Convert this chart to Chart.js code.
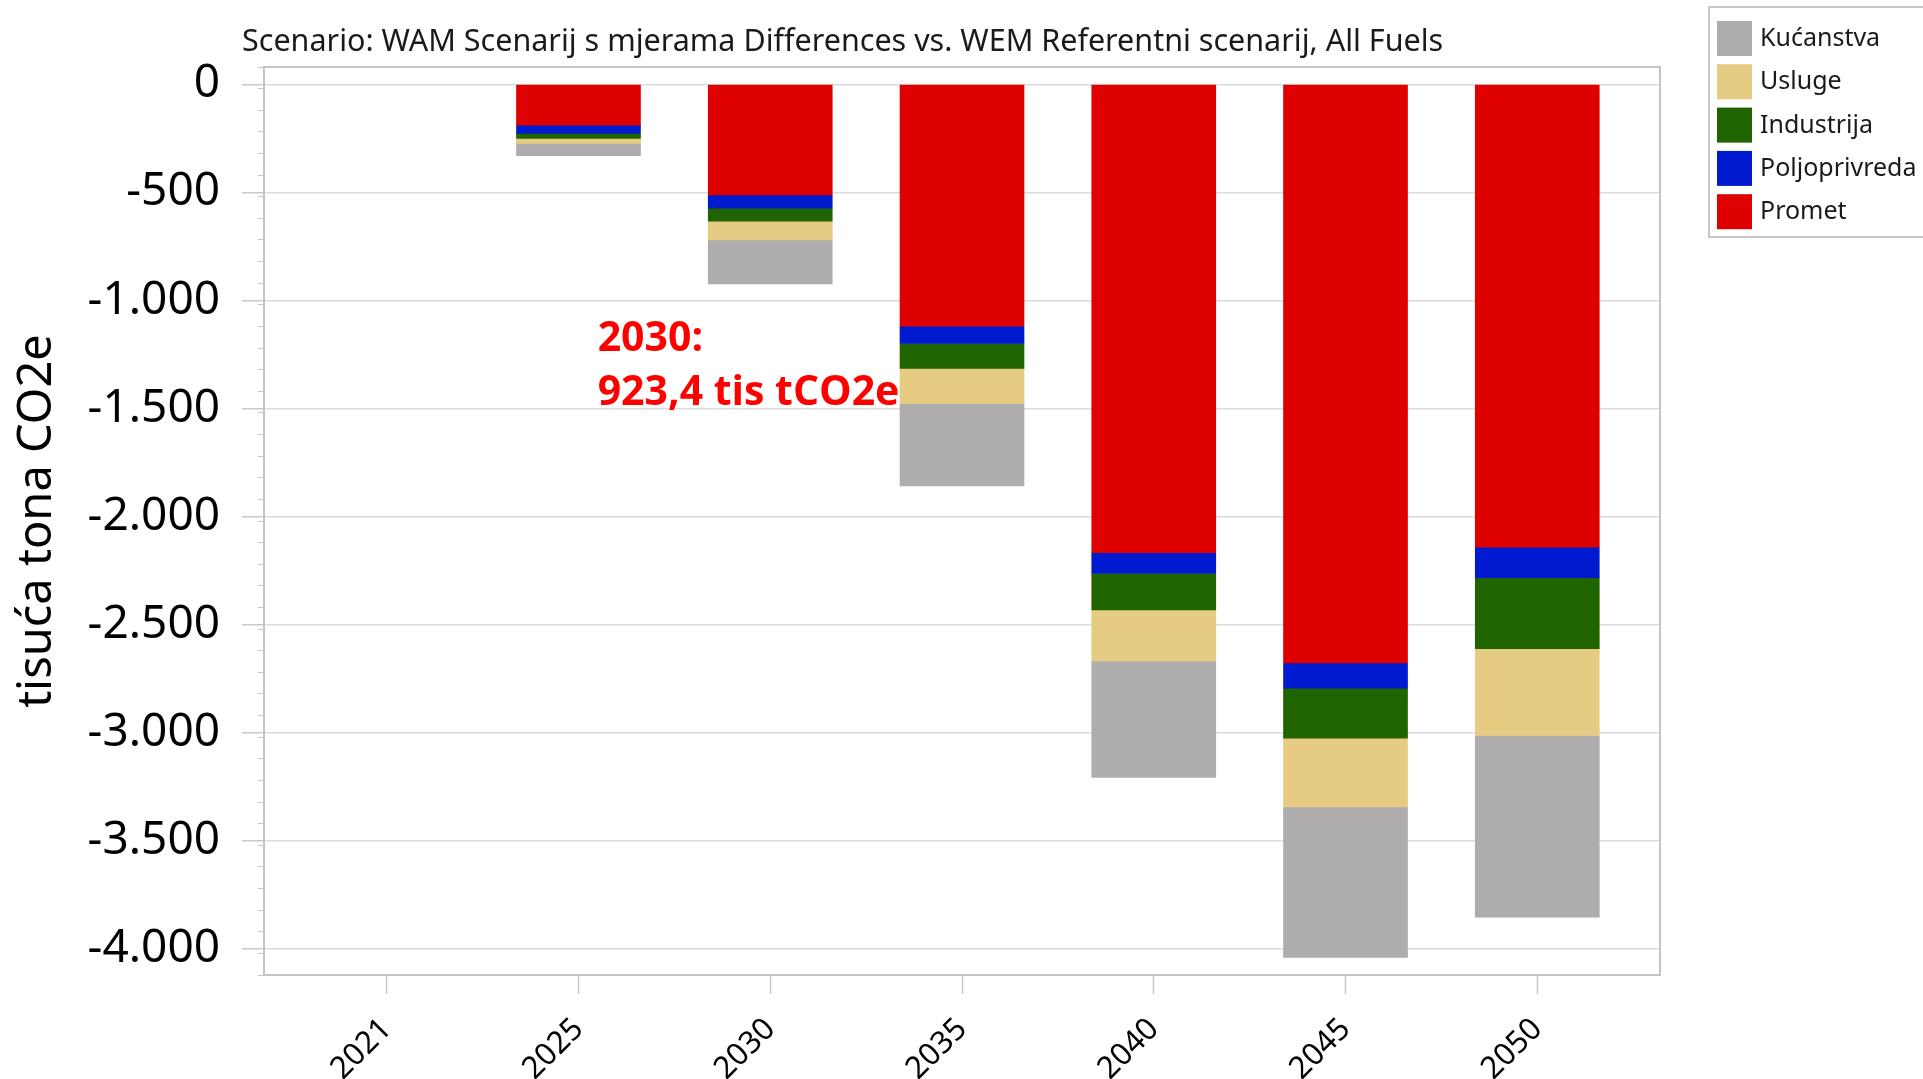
<!DOCTYPE html>
<html>
<head>
<meta charset="utf-8">
<title>WAM vs WEM - razlika emisija</title>
<script src="https://cdn.jsdelivr.net/npm/chart.js@4.4.1/dist/chart.umd.min.js"></script>
<style>
  html, body { margin: 0; padding: 0; background: #fff; overflow: hidden; }
  #chart { display: block; }
</style>
</head>
<body>
<canvas id="chart" width="1923" height="1079"></canvas>
<script>
// Data (tisuća tona CO2e, WAM minus WEM)
const years = ["2021", "2025", "2030", "2035", "2040", "2045", "2050"];
const promet = [0, -189, -512, -1119, -2166, -2677, -2141];
const poljoprivreda = [0, -38, -61, -80, -97, -116, -141];
const industrija = [0, -23, -60, -115, -168, -232, -329];
const usluge = [0, -23, -87, -163, -236, -318, -401];
const kucanstva = [0, -57, -203.4, -381, -539, -696, -841];
const yTicks = [0, -500, -1000, -1500, -2000, -2500, -3000, -3500, -4000];

const subtitle = "Scenario: WAM Scenarij s mjerama Differences vs. WEM Referentni scenarij, All Fuels";
const noteLines = ["2030:", "923,4 tis tCO2e"];

const font = '"Noto Sans", "Open Sans", sans-serif';

// zero rows are left out so no hairline bar is drawn for 2021
function toPoints(arr) {
    return arr.map((v, i) => ({ x: i, y: v === 0 ? null : v }));
}

// thousands with a dot, like -1.000
function fmt(v) {
    const s = Math.abs(v).toString().replace(/\B(?=(\d{3})+(?!\d))/g, ".");
    return (v < 0 ? "-" : "") + s;
}

// box around the plot
const frame = {
    id: "frame",
    afterDatasetsDraw(chart) {
        const { ctx, chartArea: a } = chart;
        ctx.save();
        ctx.strokeStyle = "#c4c4c4";
        ctx.lineWidth = 2;
        ctx.strokeRect(a.left, a.top, a.right - a.left, a.bottom - a.top);
        ctx.restore();
    }
};

// subtitle line + red note
const texts = {
    id: "texts",
    afterDraw(chart) {
        const { ctx } = chart;
        const x = chart.scales.x;
        const y = chart.scales.y;
        ctx.save();
        ctx.fillStyle = "#1a1a1a";
        ctx.font = "30.5px " + font;
        ctx.textBaseline = "alphabetic";
        ctx.fillText(subtitle, 242, 51);

        ctx.fillStyle = "#ff0000";
        ctx.font = "bold 41px \"Open Sans\", sans-serif";
        const nx = x.getPixelForValue(1.1);
        ctx.fillText(noteLines[0], nx, y.getPixelForValue(-1233));
        ctx.fillText(noteLines[1], nx, y.getPixelForValue(-1485));
        ctx.restore();
    }
};

// legend box in the top right corner
const boxLegend = {
    id: "boxLegend",
    afterDraw(chart) {
        const { ctx } = chart;
        const items = chart.data.datasets.slice().reverse();
        ctx.save();
        ctx.strokeStyle = "#c8c8c8";
        ctx.lineWidth = 2;
        ctx.strokeRect(1709, 7, 260, 230);
        ctx.font = "25px " + font;
        ctx.textBaseline = "middle";
        items.forEach((ds, i) => {
            const top = 21 + i * 43.3;
            ctx.fillStyle = ds.backgroundColor;
            ctx.fillRect(1717, top, 35, 35);
            ctx.fillStyle = "#1a1a1a";
            ctx.fillText(ds.label, 1760, top + 18);
        });
        ctx.restore();
    }
};

const ctx = document.getElementById("chart");

new Chart(ctx, {
    type: "bar",
    data: {
        datasets: [
            { label: "Promet", data: toPoints(promet), backgroundColor: "#df0000" },
            { label: "Poljoprivreda", data: toPoints(poljoprivreda), backgroundColor: "#001ad0" },
            { label: "Industrija", data: toPoints(industrija), backgroundColor: "#206400" },
            { label: "Usluge", data: toPoints(usluge), backgroundColor: "#e6cb82" },
            { label: "Kućanstva", data: toPoints(kucanstva), backgroundColor: "#aeacad" }
        ]
    },
    options: {
        responsive: false,
        devicePixelRatio: 1,
        animation: false,
        layout: { padding: { top: 67, right: 263, bottom: 0, left: 0 } },
        datasets: { bar: { barThickness: 124, borderWidth: 0 } },
        plugins: {
            legend: { display: false },
            tooltip: { enabled: false }
        },
        scales: {
            x: {
                type: "linear",
                stacked: true,
                offset: false,
                min: -0.64,
                max: 6.64,
                afterBuildTicks: s => { s.ticks = years.map((_, i) => ({ value: i })); },
                afterFit: s => { s.height = 104; },
                border: { display: false },
                grid: { drawOnChartArea: false, offset: false, tickLength: 19, tickColor: "#c8c8c8", tickWidth: 1.5 },
                ticks: {
                    autoSkip: false,
                    minRotation: 45,
                    maxRotation: 45,
                    padding: 17,
                    color: "#000",
                    font: { family: font, size: 31 },
                    callback: v => years[v]
                }
            },
            y: {
                stacked: true,
                weight: 1,
                min: -4120,
                max: 80,
                afterBuildTicks: s => { s.ticks = yTicks.map(v => ({ value: v })); },
                afterFit: s => { s.width = 264; },
                border: { display: false },
                grid: { color: "#dcdcdc", lineWidth: 1.5, tickLength: 22, tickColor: "#c8c8c8" },
                ticks: {
                    padding: 22,
                    color: "#000",
                    font: { family: font, size: 46 },
                    callback: v => fmt(v)
                },
                title: {
                    display: true,
                    text: "tisuća tona CO2e",
                    color: "#000",
                    font: { family: font, size: 47 },
                    padding: { top: 9, bottom: 0 }
                }
            },
            yMinor: {
                type: "linear",
                position: "left",
                weight: 0,
                min: -4120,
                max: 80,
                afterFit: s => { s.width = 0; },
                border: { display: false },
                grid: { drawOnChartArea: false, tickLength: 6, tickColor: "#c8c8c8" },
                ticks: { display: false, stepSize: 100, autoSkip: false, includeBounds: false }
            }
        }
    },
    plugins: [frame, texts, boxLegend]
});
</script>
</body>
</html>
